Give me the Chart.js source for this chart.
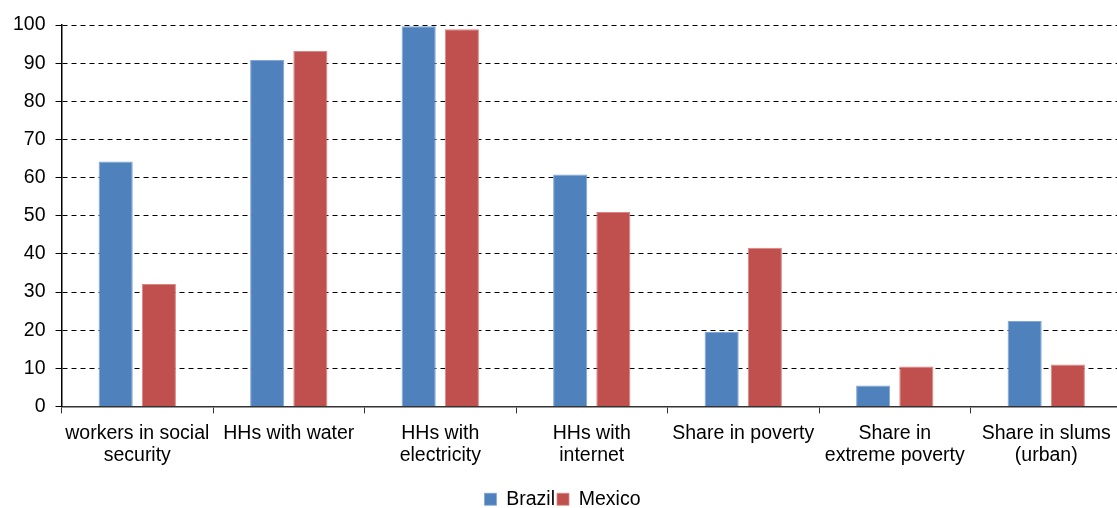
<!DOCTYPE html>
<html>
<head>
<meta charset="utf-8">
<style>
  html, body { margin: 0; padding: 0; background: #fff; overflow: hidden; }
</style>
</head>
<body>
<canvas id="accessChart" width="1122" height="508"></canvas>

<script src="https://cdn.jsdelivr.net/npm/chart.js"></script>
<script>
  const categories = [
    ["workers in social", "security"],
    "HHs with water",
    ["HHs with", "electricity"],
    ["HHs with", "internet"],
    "Share in poverty",
    ["Share in", "extreme poverty"],
    ["Share in slums", "(urban)"],
  ];
  const brazil = [64.2, 90.8, 99.7, 60.8, 19.5, 5.5, 22.4];
  const mexico = [32.1, 93.2, 98.9, 51.0, 41.6, 10.5, 11.0];
  const yTicks = [0, 10, 20, 30, 40, 50, 60, 70, 80, 90, 100];

  const font = { family: "'Liberation Sans', Arial, sans-serif", size: 19.5 };

  const ctx = document.getElementById("accessChart").getContext("2d");

  new Chart(ctx, {
    type: "bar",
    data: {
      labels: categories,
      datasets: [
        {
          label: "Brazil",
          data: brazil,
          backgroundColor: "#4f81bd",
          borderColor: "#7fa6d6",
          borderWidth: { top: 1, left: 1, right: 1, bottom: 0 },
          categoryPercentage: 0.57,
          barPercentage: 0.79,
        },
        {
          label: "Mexico",
          data: mexico,
          backgroundColor: "#c0504d",
          borderColor: "#d98583",
          borderWidth: { top: 1, left: 1, right: 1, bottom: 0 },
          categoryPercentage: 0.57,
          barPercentage: 0.79,
        },
      ],
    },
    options: {
      responsive: false,
      animation: false,
      layout: { padding: { top: 25, left: 3, right: 0, bottom: -11 } },
      plugins: {
        tooltip: { enabled: false },
        legend: {
          position: "bottom",
          labels: {
            color: "#000",
            font: font,
            boxWidth: 12,
            boxHeight: 12,
            padding: 2,
          },
        },
      },
      scales: {
        x: {
          afterFit: (axis) => {
            axis.height += 12;
          },
          grid: {
            offset: true,
            drawOnChartArea: false,
            drawTicks: true,
            tickLength: 7,
            color: "#333",
          },
          border: { color: "#333", width: 1.5 },
          ticks: {
            color: "#000",
            font: { ...font, lineHeight: 1.13 },
            maxRotation: 0,
            autoSkip: false,
            padding: 9,
          },
        },
        y: {
          min: 0,
          max: 100,
          afterBuildTicks: (axis) => {
            axis.ticks = yTicks.map((v) => ({ value: v }));
          },
          grid: {
            color: "#000",
            lineWidth: 1,
            tickLength: 6,
          },
          border: { color: "#000", width: 1.5, dash: [5, 4] },
          ticks: {
            color: "#000",
            font: font,
            padding: 10,
          },
        },
      },
    },
  });
</script>
</body>
</html>
